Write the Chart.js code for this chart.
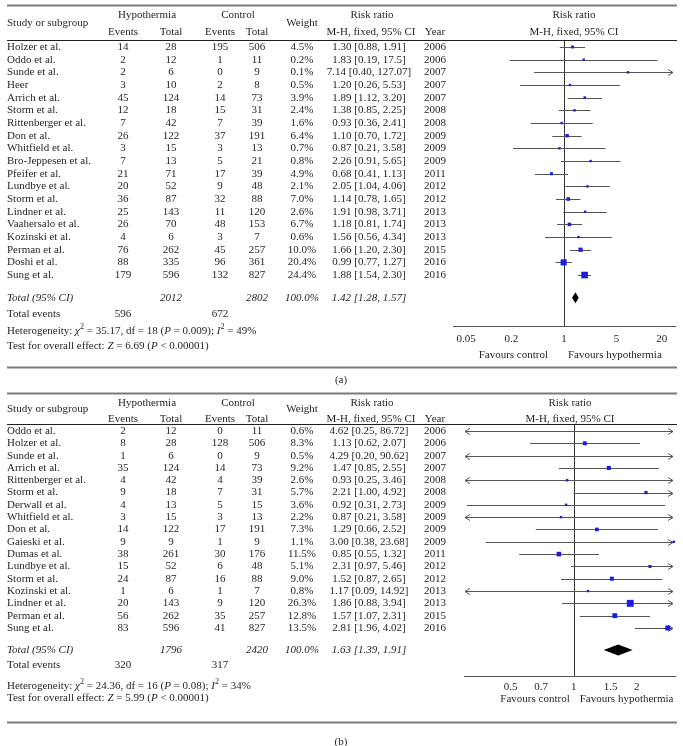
<!DOCTYPE html>
<html>
<head>
<meta charset="utf-8">
<script src="https://cdn.jsdelivr.net/npm/chart.js@4.4.1/dist/chart.umd.min.js"></script>
<style>
  html, body { margin: 0; padding: 0; background: #fff; }
  canvas { position: absolute; left: 0; }
  #panelA { top: 0; }
  #panelB { top: 388px; }
</style>
</head>
<body>
<canvas id="panelA" width="683" height="388"></canvas>
<canvas id="panelB" width="683" height="358"></canvas>
<script>
// ---- panel (a) ----
const studiesA = ['Holzer et al.', 'Oddo et al.', 'Sunde et al.', 'Heer', 'Arrich et al.', 'Storm et al.',
  'Rittenberger et al.', 'Don et al.', 'Whitfield et al.', 'Bro-Jeppesen et al.', 'Pfeifer et al.',
  'Lundbye et al.', 'Storm et al.', 'Lindner et al.', 'Vaahersalo et al.', 'Kozinski et al.',
  'Perman et al.', 'Doshi et al.', 'Sung et al.'];
const hypEventsA = [14, 2, 2, 3, 45, 12, 7, 26, 3, 7, 21, 20, 36, 25, 26, 4, 76, 88, 179];
const hypTotalA = [28, 12, 6, 10, 124, 18, 42, 122, 15, 13, 71, 52, 87, 143, 70, 6, 262, 335, 596];
const ctlEventsA = [195, 1, 0, 2, 14, 15, 7, 37, 3, 5, 17, 9, 32, 11, 48, 3, 45, 96, 132];
const ctlTotalA = [506, 11, 9, 8, 73, 31, 39, 191, 13, 21, 39, 48, 88, 120, 153, 7, 257, 361, 827];
const weightA = [4.5, 0.2, 0.1, 0.5, 3.9, 2.4, 1.6, 6.4, 0.7, 0.8, 4.9, 2.1, 7.0, 2.6, 6.7, 0.6, 10.0, 20.4, 24.4];
const rrA = [1.30, 1.83, 7.14, 1.20, 1.89, 1.38, 0.93, 1.10, 0.87, 2.26, 0.68, 2.05, 1.14, 1.91, 1.18, 1.56, 1.66, 0.99, 1.88];
const loA = [0.88, 0.19, 0.40, 0.26, 1.12, 0.85, 0.36, 0.70, 0.21, 0.91, 0.41, 1.04, 0.78, 0.98, 0.81, 0.56, 1.20, 0.77, 1.54];
const hiA = [1.91, 17.5, 127.07, 5.53, 3.20, 2.25, 2.41, 1.72, 3.58, 5.65, 1.13, 4.06, 1.65, 3.71, 1.74, 4.34, 2.30, 1.27, 2.30];
const yearA = [2006, 2006, 2007, 2007, 2007, 2008, 2008, 2009, 2009, 2009, 2011, 2012, 2012, 2013, 2013, 2013, 2015, 2016, 2016];
const totalsA = [2012, 2802];
const eventsA = [596, 672];
const pooledA = [1.42, 1.28, 1.57];
const hetA = [35.17, 18, 0.009, 49];
const zA = 6.69;
const ticksA = [0.05, 0.2, 1, 5, 20];

// ---- panel (b) ----
const studiesB = ['Oddo et al.', 'Holzer et al.', 'Sunde et al.', 'Arrich et al.', 'Rittenberger et al.',
  'Storm et al.', 'Derwall et al.', 'Whitfield et al.', 'Don et al.', 'Gaieski et al.', 'Dumas et al.',
  'Lundbye et al.', 'Storm et al.', 'Kozinski et al.', 'Lindner et al.', 'Perman et al.', 'Sung et al.'];
const hypEventsB = [2, 8, 1, 35, 4, 9, 4, 3, 14, 9, 38, 15, 24, 1, 20, 56, 83];
const hypTotalB = [12, 28, 6, 124, 42, 18, 13, 15, 122, 9, 261, 52, 87, 6, 143, 262, 596];
const ctlEventsB = [0, 128, 0, 14, 4, 7, 5, 3, 17, 1, 30, 6, 16, 1, 9, 35, 41];
const ctlTotalB = [11, 506, 9, 73, 39, 31, 15, 13, 191, 9, 176, 48, 88, 7, 120, 257, 827];
const weightB = [0.6, 8.3, 0.5, 9.2, 2.6, 5.7, 3.6, 2.2, 7.3, 1.1, 11.5, 5.1, 9.0, 0.8, 26.3, 12.8, 13.5];
const rrB = [4.62, 1.13, 4.29, 1.47, 0.93, 2.21, 0.92, 0.87, 1.29, 3.00, 0.85, 2.31, 1.52, 1.17, 1.86, 1.57, 2.81];
const loB = [0.25, 0.62, 0.20, 0.85, 0.25, 1.00, 0.31, 0.21, 0.66, 0.38, 0.55, 0.97, 0.87, 0.09, 0.88, 1.07, 1.96];
const hiB = [86.72, 2.07, 90.62, 2.55, 3.46, 4.92, 2.73, 3.58, 2.52, 23.68, 1.32, 5.46, 2.65, 14.92, 3.94, 2.31, 4.02];
const yearB = [2006, 2006, 2007, 2007, 2008, 2008, 2009, 2009, 2009, 2009, 2011, 2012, 2012, 2013, 2013, 2015, 2016];
const totalsB = [1796, 2420];
const eventsB = [320, 317];
const pooledB = [1.63, 1.39, 1.91];
const hetB = [24.36, 16, 0.08, 34];
const zB = 5.99;
const ticksB = [0.5, 0.7, 1, 1.5, 2];

const SERIF = '"Liberation Serif", "DejaVu Serif", serif';
const INK = '#231f20';
const RULE = '#7a7a7a';
const WHISKER = '#555';
const BLUE = '#1c1cdc';
// column centres shared by both tables
const COL = { study: 7, hypEv: 123, hypTot: 171, ctlEv: 220, ctlTot: 257, weight: 302, ci: 369, year: 435 };

const fmt = (v) => (v >= 10 && Math.round(v * 100) % 10 === 0 ? v.toFixed(1) : v.toFixed(2));
const ciText = (r, l, h) => `${fmt(r)} [${fmt(l)}, ${fmt(h)}]`;

function text(ctx, s, x, y, align, italic) {
  ctx.font = `${italic ? 'italic ' : ''}11px ${SERIF}`;
  ctx.textAlign = align || 'center';
  ctx.textBaseline = 'middle';
  ctx.fillStyle = INK;
  ctx.fillText(s, x, y);
}

// parts: [string, style] with style '' | 'i' (italic) | 's' (superscript)
function rich(ctx, x, y, parts) {
  ctx.textAlign = 'left';
  ctx.textBaseline = 'middle';
  ctx.fillStyle = INK;
  let cx = x;
  parts.forEach(([s, st]) => {
    const sup = st === 's';
    ctx.font = `${st === 'i' ? 'italic ' : ''}${sup ? 8 : 11}px ${SERIF}`;
    ctx.fillText(s, cx, sup ? y - 4 : y);
    cx += ctx.measureText(s).width;
  });
}

function hline(ctx, y, color, w) {
  ctx.strokeStyle = color;
  ctx.lineWidth = w;
  ctx.beginPath();
  ctx.moveTo(7, y + 0.5);
  ctx.lineTo(677, y + 0.5);
  ctx.stroke();
}

function chevron(ctx, x, y, dir) {
  ctx.beginPath();
  ctx.moveTo(x - dir * 5, y - 3);
  ctx.lineTo(x, y);
  ctx.lineTo(x - dir * 5, y + 3);
  ctx.stroke();
}

function makePanel(canvasId, d, L) {
  const canvas = document.getElementById(canvasId);
  const yMin = -(L.row0 - L.hdrRule) / L.step;
  const yMax = (L.axisY - L.row0) / L.step;
  const xAxisH = 20;
  const n = d.studies.length;
  const totalRow = n - 1 + 1.8;

  const forest = {
    id: 'forest',
    beforeDatasetsDraw(chart) {
      const { ctx, chartArea: a, scales: { x, y } } = chart;
      ctx.save();
      const x1 = Math.round(x.getPixelForValue(1)) + 0.5;
      ctx.strokeStyle = '#333';
      ctx.lineWidth = 1;
      ctx.beginPath();
      ctx.moveTo(x1, L.hdrRule);
      ctx.lineTo(x1, a.bottom);
      ctx.stroke();

      ctx.strokeStyle = WHISKER;
      d.lo.forEach((lo, i) => {
        const yy = Math.round(y.getPixelForValue(i)) + 0.5;
        const xl = Math.max(a.left + 1, x.getPixelForValue(lo));
        const xr = Math.min(a.right - 2, x.getPixelForValue(d.hi[i]));
        ctx.beginPath();
        ctx.moveTo(xl, yy);
        ctx.lineTo(xr, yy);
        ctx.stroke();
        if (x.getPixelForValue(lo) < a.left) chevron(ctx, xl, yy, -1);
        if (x.getPixelForValue(d.hi[i]) > a.right) chevron(ctx, xr, yy, 1);
      });

      // pooled diamond
      const yt = y.getPixelForValue(totalRow);
      const [pr, pl, ph] = d.pooled;
      ctx.fillStyle = '#000';
      ctx.beginPath();
      ctx.moveTo(x.getPixelForValue(pl), yt);
      ctx.lineTo(x.getPixelForValue(pr), yt - 5.5);
      ctx.lineTo(x.getPixelForValue(ph), yt);
      ctx.lineTo(x.getPixelForValue(pr), yt + 5.5);
      ctx.closePath();
      ctx.fill();
      ctx.restore();
    },
    afterDraw(chart) {
      const { ctx, scales: { x, y } } = chart;
      ctx.save();
      hline(ctx, L.topRule, RULE, 2);
      hline(ctx, L.hdrRule, INK, 1);
      hline(ctx, L.bottomRule, RULE, 2);

      text(ctx, 'Study or subgroup', COL.study, L.hdrMid, 'left');
      text(ctx, 'Hypothermia', 147, L.hdr1);
      text(ctx, 'Control', 238, L.hdr1);
      text(ctx, 'Weight', COL.weight, L.hdrMid);
      text(ctx, 'Risk ratio', 372, L.hdr1);
      text(ctx, 'Risk ratio', L.rrHeadX, L.hdr1);
      text(ctx, 'Events', COL.hypEv, L.hdr2);
      text(ctx, 'Total', COL.hypTot, L.hdr2);
      text(ctx, 'Events', COL.ctlEv, L.hdr2);
      text(ctx, 'Total', COL.ctlTot, L.hdr2);
      text(ctx, 'M-H, fixed, 95% CI', 371, L.hdr2);
      text(ctx, 'Year', COL.year, L.hdr2);
      text(ctx, 'M-H, fixed, 95% CI', L.rrHeadX, L.hdr2);

      d.studies.forEach((s, i) => {
        const yy = y.getPixelForValue(i);
        text(ctx, s, COL.study, yy, 'left');
        text(ctx, String(d.hypEv[i]), COL.hypEv, yy);
        text(ctx, String(d.hypTot[i]), COL.hypTot, yy);
        text(ctx, String(d.ctlEv[i]), COL.ctlEv, yy);
        text(ctx, String(d.ctlTot[i]), COL.ctlTot, yy);
        text(ctx, `${d.weight[i].toFixed(1)}%`, COL.weight, yy);
        text(ctx, ciText(d.rr[i], d.lo[i], d.hi[i]), COL.ci, yy);
        text(ctx, String(d.year[i]), COL.year, yy);
      });

      const yt = y.getPixelForValue(totalRow);
      text(ctx, 'Total (95% CI)', COL.study, yt, 'left', true);
      text(ctx, String(d.totals[0]), COL.hypTot, yt, 'center', true);
      text(ctx, String(d.totals[1]), COL.ctlTot, yt, 'center', true);
      text(ctx, '100.0%', COL.weight, yt, 'center', true);
      text(ctx, ciText(...d.pooled), COL.ci, yt, 'center', true);

      text(ctx, 'Total events', COL.study, L.events, 'left');
      text(ctx, String(d.events[0]), COL.hypEv, L.events);
      text(ctx, String(d.events[1]), COL.ctlEv, L.events);

      const [chi, df, p, i2] = d.het;
      rich(ctx, COL.study, L.het, [['Heterogeneity: ', ''], ['\u03c7', 'i'], ['2', 's'],
        [` = ${chi.toFixed(2)}, df = ${df} (`, ''], ['P', 'i'], [` = ${p}); `, ''], ['I', 'i'], ['2', 's'],
        [` = ${i2}%`, '']]);
      rich(ctx, COL.study, L.test, [['Test for overall effect: ', ''], ['Z', 'i'],
        [` = ${d.z.toFixed(2)} (`, ''], ['P', 'i'], [' < 0.00001)', '']]);

      const x1 = x.getPixelForValue(1);
      text(ctx, 'Favours control', x1 - L.favOff[0], L.favours, 'right');
      text(ctx, 'Favours hypothermia', x1 + L.favOff[1], L.favours, 'left');
      text(ctx, L.tag, 341, L.tagY);
      ctx.restore();
    },
  };

  return new Chart(canvas, {
    type: 'scatter',
    data: {
      datasets: [{
        data: d.rr.map((v, i) => ({ x: v, y: i })),
        pointStyle: 'rect',
        pointRadius: d.weight.map((w) => Math.max(2.4, 1.35 * Math.sqrt(w)) / Math.SQRT2),
        backgroundColor: BLUE,
        borderColor: BLUE,
        borderWidth: 0,
      }],
    },
    options: {
      animation: false,
      responsive: false,
      events: [],
      layout: { padding: { left: L.plotLeft, right: 8, top: L.hdrRule, bottom: canvas.height - L.axisY - xAxisH } },
      scales: {
        x: {
          type: 'logarithmic',
          min: d.xMin,
          max: d.xMax,
          afterFit: (s) => { s.height = xAxisH; },
          afterBuildTicks: (s) => { s.ticks = d.ticks.map((v) => ({ value: v })); },
          ticks: {
            autoSkip: false,
            maxRotation: 0,
            padding: L.tickPad,
            color: INK,
            font: { family: SERIF, size: 11 },
            callback: (v) => String(v),
          },
          grid: { display: false, drawTicks: false },
          border: { display: true, color: '#555', width: 1 },
        },
        y: { display: false, reverse: true, min: yMin, max: yMax },
      },
      plugins: { legend: { display: false }, tooltip: { enabled: false } },
    },
    plugins: [forest],
  });
}

makePanel('panelA', {
  studies: studiesA, hypEv: hypEventsA, hypTot: hypTotalA, ctlEv: ctlEventsA, ctlTot: ctlTotalA,
  weight: weightA, rr: rrA, lo: loA, hi: hiA, year: yearA, totals: totalsA, events: eventsA,
  pooled: pooledA, het: hetA, z: zA, ticks: ticksA, xMin: 1 / 30, xMax: 30,
}, {
  topRule: 5, hdr1: 15, hdrMid: 23, hdr2: 32, hdrRule: 40, row0: 47, step: 12.67, axisY: 326,
  events: 314, het: 331, test: 346, favours: 355, favOff: [16, 4], bottomRule: 367,
  tag: '(a)', tagY: 380, plotLeft: 453, rrHeadX: 574, tickPad: 7,
});

makePanel('panelB', {
  studies: studiesB, hypEv: hypEventsB, hypTot: hypTotalB, ctlEv: ctlEventsB, ctlTot: ctlTotalB,
  weight: weightB, rr: rrB, lo: loB, hi: hiB, year: yearB, totals: totalsB, events: eventsB,
  pooled: pooledB, het: hetB, z: zB, ticks: ticksB, xMin: 0.332, xMax: 3.04,
}, {
  topRule: 5, hdr1: 15, hdrMid: 21, hdr2: 31, hdrRule: 36, row0: 43, step: 12.31, axisY: 288,
  events: 277, het: 298, test: 310, favours: 311, favOff: [4, 6], bottomRule: 334,
  tag: '(b)', tagY: 354, plotLeft: 464, rrHeadX: 570, tickPad: 5,
});
</script>
</body>
</html>
